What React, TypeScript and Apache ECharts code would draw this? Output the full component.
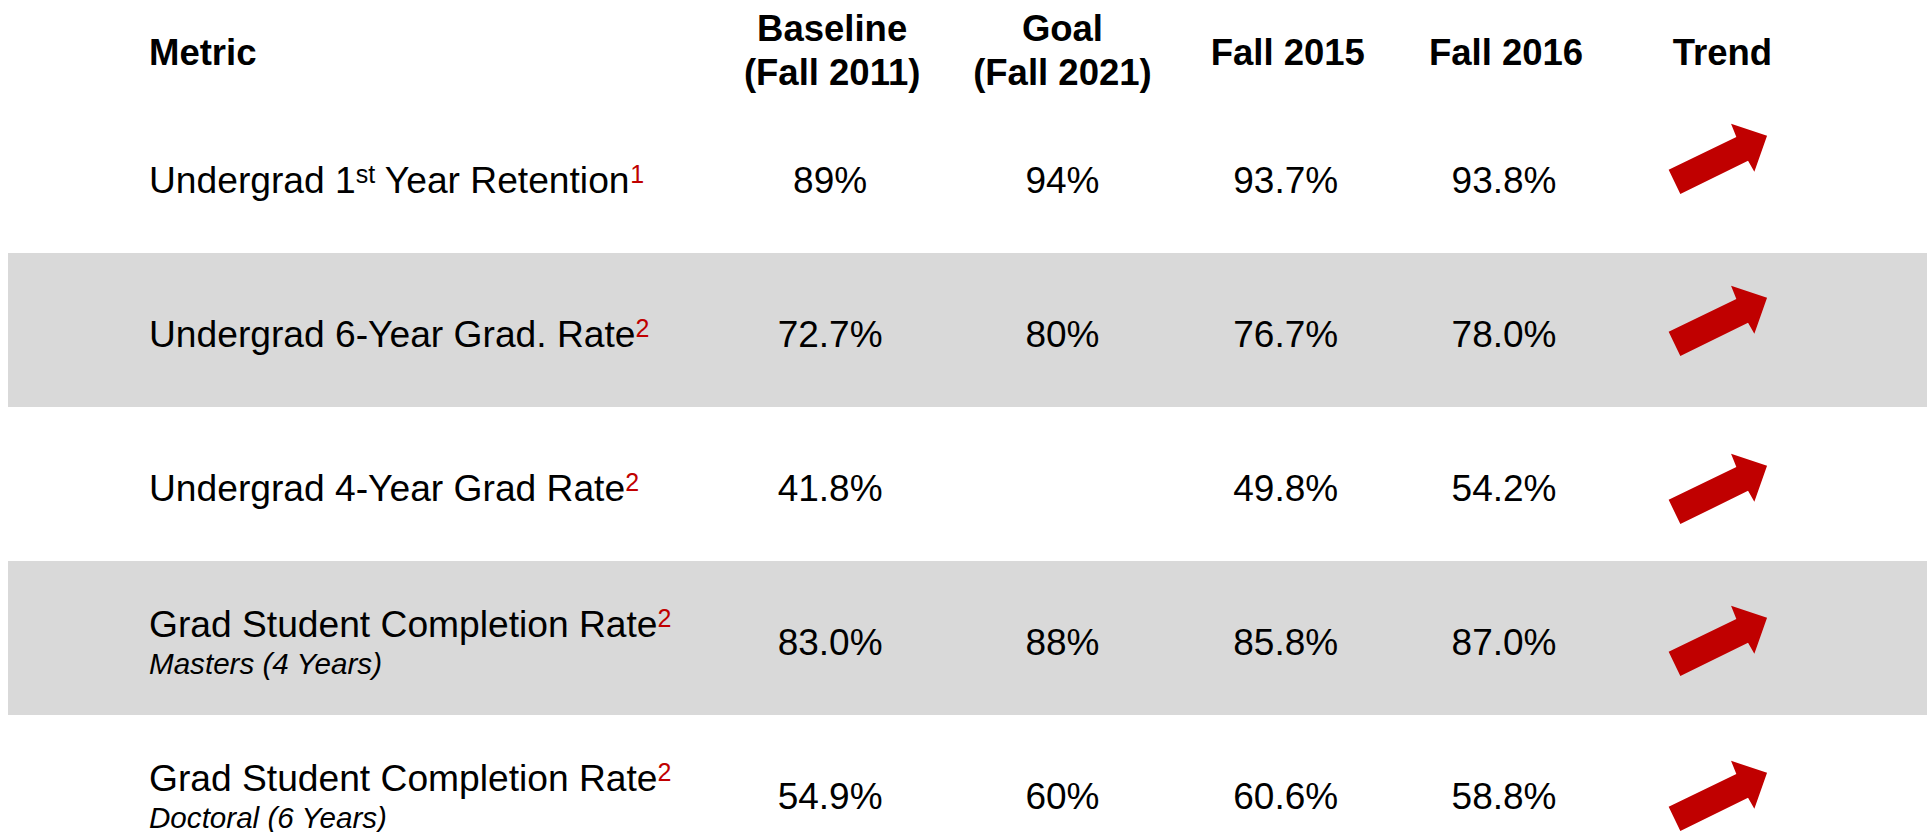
import React, { useEffect, useRef } from 'react';
import * as echarts from 'echarts';

// ---------------- data ----------------
const metricHeader = 'Metric';
const columnKeys = ['baseline', 'goal', 'fall2015', 'fall2016', 'trend'];
const columnHeaders = ['Baseline\n(Fall 2011)', 'Goal\n(Fall 2021)', 'Fall 2015', 'Fall 2016', 'Trend'];
const metricNames = [
  'Undergrad 1st Year Retention',
  'Undergrad 6-Year Grad. Rate',
  'Undergrad 4-Year Grad Rate',
  'Grad Student Completion Rate',
  'Grad Student Completion Rate',
];
const metricFootnotes = ['1', '2', '2', '2', '2'];
const metricSubtitles = ['', '', '', 'Masters (4 Years)', 'Doctoral (6 Years)'];
const baseline = [89, 72.7, 41.8, 83.0, 54.9];
const baselineDecimals = [0, 1, 1, 1, 1];
const goal: (number | null)[] = [94, 80, null, 88, 60];
const goalDecimals = [0, 0, 0, 0, 0];
const fall2015 = [93.7, 76.7, 49.8, 85.8, 60.6];
const fall2015Decimals = [1, 1, 1, 1, 1];
const fall2016 = [93.8, 78.0, 54.2, 87.0, 58.8];
const fall2016Decimals = [1, 1, 1, 1, 1];
const trend = ['up', 'up', 'up', 'up', 'up'];

// ---------------- layout / style ----------------
const W = 1927;
const H = 832;
const FONT = '"Liberation Sans", Arial, Helvetica, sans-serif';
const RED = '#C00000';
const BAND = '#D9D9D9';
const LABEL_X = 149;
const BAND_X = 8;
const HEADER_NUDGE = [-4, 4, 7, 3, -3];
const VALUE_NUDGE = [-6, 4, 5, 1, -8];
const ARROW_DY = [-17, -9, 5, 3, 4];
// arrow outline relative to its centre
const ARROW_SHAPE = [
  [-48.7, 10.8],
  [19, -21.9],
  [13.7, -35.2],
  [49.7, -23.2],
  [37, 12.8],
  [30.7, 1.8],
  [-37, 35.1],
];

const valueColumns = [
  { values: baseline, decimals: baselineDecimals },
  { values: goal, decimals: goalDecimals },
  { values: fall2015, decimals: fall2015Decimals },
  { values: fall2016, decimals: fall2016Decimals },
];

const rowKeys = metricNames.map((_, i) => 'r' + i);

function richName(name: string, fn: string) {
  const withSup = name.replace(/(\d)(st|nd|rd|th)\b/, '$1{sup|$2}');
  return withSup + '{fn|' + fn + '}';
}

export default function App() {
  const ref = useRef<HTMLDivElement>(null);
  useEffect(() => {
    if (!ref.current) return;
    const chart = echarts.init(ref.current, undefined, { renderer: 'svg' });

    const cellData: number[][] = [];
    const cellText: string[] = [];
    valueColumns.forEach((col, c) => {
      col.values.forEach((v, r) => {
        if (v === null || v === undefined) return;
        cellData.push([c, r]);
        cellText.push((v as number).toFixed(col.decimals[r]) + '%');
      });
    });

    const option: any = {
      animation: false,
      backgroundColor: '#ffffff',
      grid: {
        left: 725,
        top: 99,
        width: 1111.5,
        height: 770,
        containLabel: false,
        outerBoundsMode: 'none',
      },
      xAxis: { type: 'category', data: columnKeys, show: false },
      yAxis: { type: 'category', data: rowKeys, inverse: true, show: false },
      series: [
        {
          type: 'custom',
          name: 'bands',
          clip: false,
          z: 1,
          data: rowKeys.map((_, r) => [0, r]),
          renderItem: (params: any, api: any) => {
            const r = api.value(1);
            if (r % 2 !== 1) return null;
            const p = api.coord([0, r]);
            const bh = api.size([0, 1])[1];
            return {
              type: 'rect',
              shape: { x: BAND_X, y: p[1] - bh / 2, width: api.getWidth() - BAND_X, height: bh },
              style: { fill: BAND },
            };
          },
        },
        {
          type: 'custom',
          name: 'headers',
          clip: false,
          z: 3,
          data: columnHeaders.map((_, c) => [c, 0]),
          renderItem: (params: any, api: any) => {
            const c = api.value(0);
            const p = api.coord([c, 0]);
            const bh = api.size([0, 1])[1];
            const txt = columnHeaders[params.dataIndex];
            const y = p[1] - bh / 2 - 49 + (txt.indexOf('\n') >= 0 ? 0 : 2);
            const children: any[] = [
              {
                type: 'text',
                style: {
                  text: txt,
                  x: p[0] + HEADER_NUDGE[c],
                  y,
                  fill: '#000',
                  fontFamily: FONT,
                  fontSize: 36.5,
                  fontWeight: 'bold',
                  lineHeight: 44,
                  align: 'center',
                  verticalAlign: 'middle',
                },
              },
            ];
            if (params.dataIndex === 0) {
              children.push({
                type: 'text',
                style: {
                  text: metricHeader,
                  x: LABEL_X,
                  y: p[1] - bh / 2 - 47,
                  fill: '#000',
                  fontFamily: FONT,
                  fontSize: 36.5,
                  fontWeight: 'bold',
                  align: 'left',
                  verticalAlign: 'middle',
                },
              });
            }
            return { type: 'group', children };
          },
        },
        {
          type: 'custom',
          name: 'metrics',
          clip: false,
          z: 3,
          data: rowKeys.map((_, r) => [0, r]),
          renderItem: (params: any, api: any) => {
            const r = api.value(1);
            const p = api.coord([0, r]);
            const sub = metricSubtitles[r];
            const supStyle = { fontFamily: FONT, fontSize: 25, fill: '#000', padding: [0, 0, 13, 0] };
            const children: any[] = [
              {
                type: 'text',
                style: {
                  text: richName(metricNames[r], metricFootnotes[r]),
                  x: LABEL_X,
                  y: p[1] + (sub ? -14 : 4),
                  fill: '#000',
                  fontFamily: FONT,
                  fontSize: 37.2,
                  lineHeight: 44,
                  align: 'left',
                  verticalAlign: 'middle',
                  rich: {
                    sup: supStyle,
                    fn: { ...supStyle, fill: RED },
                  },
                },
              },
            ];
            if (sub) {
              children.push({
                type: 'text',
                style: {
                  text: sub,
                  x: LABEL_X,
                  y: p[1] + 25,
                  fill: '#000',
                  fontFamily: FONT,
                  fontSize: 29.6,
                  fontStyle: 'italic',
                  align: 'left',
                  verticalAlign: 'middle',
                },
              });
            }
            return { type: 'group', children };
          },
        },
        {
          type: 'custom',
          name: 'values',
          clip: false,
          z: 3,
          data: cellData,
          renderItem: (params: any, api: any) => {
            const c = api.value(0);
            const r = api.value(1);
            const p = api.coord([c, r]);
            return {
              type: 'text',
              style: {
                text: cellText[params.dataIndex],
                x: p[0] + VALUE_NUDGE[c],
                y: p[1] + 4,
                fill: '#000',
                fontFamily: FONT,
                fontSize: 37,
                align: 'center',
                verticalAlign: 'middle',
              },
            };
          },
        },
        {
          type: 'custom',
          name: 'trend',
          clip: false,
          z: 3,
          data: trend.map((t, r) => [4, r]),
          renderItem: (params: any, api: any) => {
            const r = api.value(1);
            const p = api.coord([4, r]);
            const cx = p[0] + VALUE_NUDGE[4];
            const cy = p[1] + ARROW_DY[r];
            const dir = trend[r] === 'up' ? 1 : -1;
            return {
              type: 'polygon',
              shape: { points: ARROW_SHAPE.map(([x, y]) => [cx + x, cy + dir * y]) },
              style: { fill: RED },
            };
          },
        },
      ],
    };
    chart.setOption(option);
    return () => chart.dispose();
  }, []);
  return <div ref={ref} style={{ position: 'fixed', left: 0, top: 0, width: W, height: H, background: '#fff' }} />;
}
